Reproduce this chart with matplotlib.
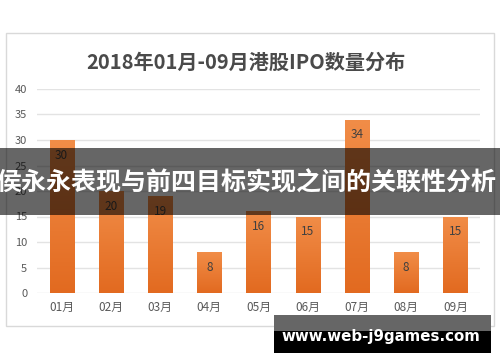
import matplotlib
matplotlib.use("Agg")
import matplotlib.pyplot as plt
from matplotlib.patches import Rectangle
from matplotlib.colors import LinearSegmentedColormap
import numpy as np

plt.rcParams['font.family'] = ['Noto Sans CJK SC', 'DejaVu Sans']

months = ["01月", "02月", "03月", "04月", "05月", "06月", "07月", "08月", "09月"]
counts = [30, 20, 19, 8, 16, 15, 34, 8, 15]
y_ticks = [0, 5, 10, 15, 20, 25, 30, 35, 40]
title = "2018年01月-09月港股IPO数量分布"
banner_text = "侯永永表现与前四目标实现之间的关联性分析"
watermark = "www.web-j9games.com"

W, H = 500, 362
fig = plt.figure(figsize=(W / 100, H / 100), dpi=100)
fig.patch.set_facecolor("white")

def fx(px):
    return px / W

def fy(py):
    return (H - py) / H

# chart frame
fig.patches.append(Rectangle((fx(6), fy(326)), fx(494) - fx(6), fy(33) - fy(326),
                             transform=fig.transFigure, facecolor="white",
                             edgecolor="#d9d9d9", linewidth=1, zorder=-5))

ax = fig.add_axes([fx(37), fy(293), fx(480) - fx(37), fy(89) - fy(293)])
ax.set_facecolor("none")
x = np.arange(len(months))
bars = ax.bar(x, counts, width=0.49, color="#ED7D31", zorder=2)

cmap = LinearSegmentedColormap.from_list("g", ["#E26A20", "#F18D48"])
grad = np.linspace(0, 1, 256).reshape(-1, 1)
for b in bars:
    x0 = b.get_x()
    w = b.get_width()
    h = b.get_height()
    im = ax.imshow(grad, extent=[x0, x0 + w, 0, h], origin="lower", aspect="auto",
                   cmap=cmap, zorder=2.1)
    im.set_clip_path(b)

for xi, v in zip(x, counts):
    ax.annotate(str(v), (xi, v), xytext=(0, -11), textcoords="offset points",
                ha="center", va="center", fontsize=8.5, color="#404040", zorder=3)

ax.set_xlim(-0.5, len(months) - 0.5)
ax.set_ylim(0, 40)
ax.set_yticks(y_ticks)
ax.set_yticklabels([str(t) for t in y_ticks], fontsize=8, color="#595959")
ax.set_xticks(x)
ax.set_xticklabels(months, fontsize=8.5, color="#595959")
ax.tick_params(axis="both", length=0)
ax.tick_params(axis="y", pad=7)
ax.tick_params(axis="x", pad=6)
ax.grid(axis="y", color="#e3e3e3", linewidth=1, zorder=0)
ax.set_axisbelow(True)
for s in ax.spines.values():
    s.set_visible(False)

fig.text(fx(246), fy(62), title, ha="center", va="center", fontsize=14.5,
         fontweight="bold", color="#4a4a4a")

# banner overlay
fig.patches.append(Rectangle((0, fy(215)), 1, fy(148) - fy(215), transform=fig.transFigure,
                             facecolor="black", alpha=0.6, edgecolor="none", zorder=10))
fig.text(fx(246), fy(183), banner_text, ha="center", va="center", fontsize=18,
         fontweight="bold", color="white", zorder=11)

# watermark
fig.patches.append(Rectangle((fx(274), fy(353)), fx(491) - fx(274), fy(315) - fy(353),
                             transform=fig.transFigure, facecolor="black",
                             edgecolor="none", zorder=10))
fig.patches.append(Rectangle((fx(274), fy(331)), fx(491) - fx(274), fy(315) - fy(331),
                             transform=fig.transFigure, facecolor="#666666",
                             edgecolor="none", zorder=10.5))
fig.text(fx(381), fy(337), watermark, ha="center", va="center", fontsize=10.8,
         fontweight="bold", color="white", family="DejaVu Sans", zorder=11)

fig.savefig("out.png", dpi=100)
